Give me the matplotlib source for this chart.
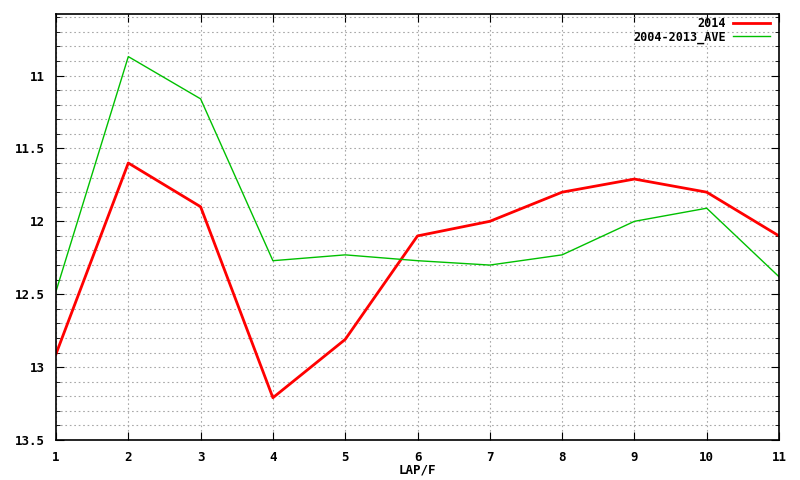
import matplotlib
matplotlib.use('Agg')
import matplotlib.pyplot as plt
from matplotlib.ticker import MultipleLocator

laps = [1, 2, 3, 4, 5, 6, 7, 8, 9, 10, 11]
y2014 = [12.91, 11.60, 11.90, 13.21, 12.81, 12.10, 12.00, 11.80, 11.71, 11.80, 12.10]
y_ave = [12.48, 10.87, 11.16, 12.27, 12.23, 12.27, 12.30, 12.23, 12.00, 11.91, 12.38]

plt.rcParams['font.family'] = 'DejaVu Sans Mono'
plt.rcParams['font.weight'] = 'bold'
plt.rcParams['font.size'] = 9

fig = plt.figure(figsize=(8, 4.8), dpi=100)
ax = fig.add_axes([0.07, 0.0833, 0.90375, 0.8875])

ax.plot(laps, y2014, color='#ff0000', lw=2, label='2014')
ax.plot(laps, y_ave, color='#00c000', lw=1, label='2004-2013_AVE')

ax.set_xlim(1, 11)
ax.set_ylim(13.5, 10.578)
ax.xaxis.set_major_locator(MultipleLocator(1))
ax.yaxis.set_minor_locator(MultipleLocator(0.1))
ax.set_yticks([11, 11.5, 12, 12.5, 13, 13.5])
ax.set_yticklabels(['11', '11.5', '12', '12.5', '13', '13.5'])

ax.grid(True, which='both', color='#a8a8a8', linestyle=(0, (1.5, 2.5)), lw=0.8)
ax.tick_params(which='both', direction='in', top=True, right=True, color='black')
ax.tick_params(which='major', length=6, pad=8)
ax.tick_params(which='minor', length=3)
for s in ax.spines.values():
    s.set_linewidth(1.2)

fig.text(417.5 / 800, 1 - 470 / 480, 'LAP/F', ha='center', va='center')

ax.legend(loc='upper right', bbox_to_anchor=(0.998, 1.01), frameon=False,
          markerfirst=False, handlelength=3.2, borderaxespad=0.2,
          labelspacing=0.05, handletextpad=0.6, fontsize=8.5)

fig.savefig('out.png', dpi=100)
